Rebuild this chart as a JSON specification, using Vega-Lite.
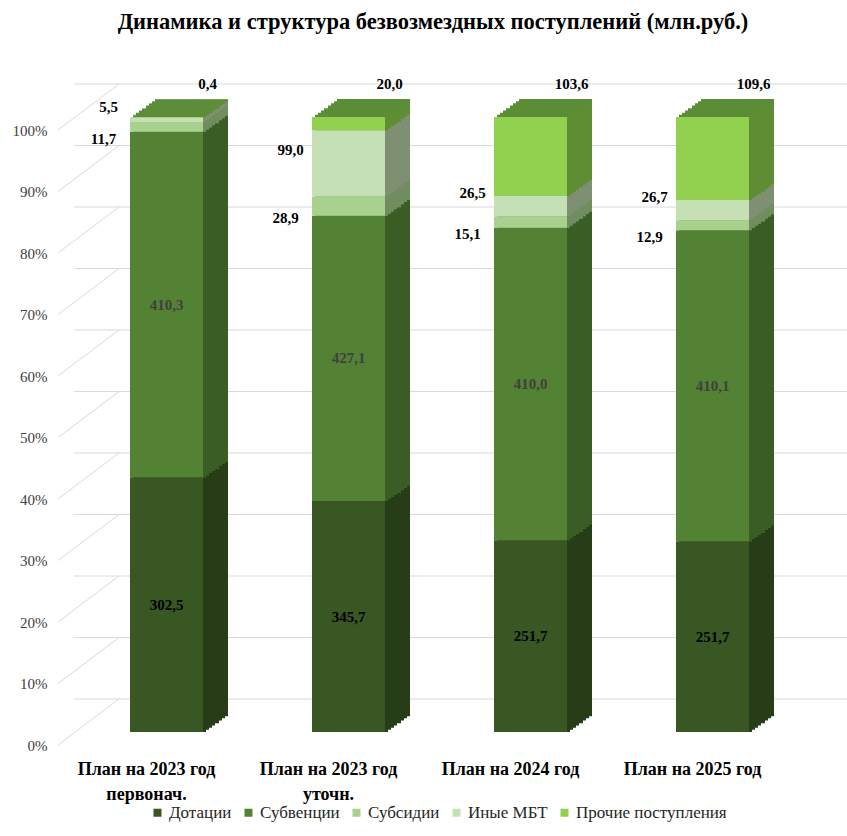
{
  "$schema": "https://vega.github.io/schema/vega-lite/v6.json",
  "width": 730,
  "height": 615,
  "autosize": {"type": "none"},
  "padding": {"left": 74, "top": 117, "right": 43, "bottom": 104},
  "background": "white",
  "title": {"text": "Динамика и структура безвозмездных поступлений (млн.руб.)", "font": "Liberation Serif", "fontSize": 22.5, "fontWeight": "bold", "color": "#000000", "anchor": "middle", "frame": "group", "offset": 44, "dx": -6},
  "config": {
    "font": "Liberation Serif",
    "view": {"stroke": null},
    "locale": {"number": {"decimal": ",", "thousands": " ", "grouping": [3], "currency": ["", ""]}},
    "axisY": {"format": ".0%", "domain": false, "ticks": false, "grid": false, "labelFont": "Liberation Serif", "labelFontSize": 15, "labelColor": "#404040", "labelPadding": 2, "offset": 25, "labelOffset": 13, "tickCount": 10, "labelFlush": false},
    "axisX": {"domain": false, "ticks": false, "grid": false, "labelFont": "Liberation Serif", "labelFontSize": 18, "labelFontWeight": "bold", "labelColor": "#000000", "labelPadding": 28, "labelLineHeight": 25, "labelAngle": 0, "labelOffset": -20, "labelExpr": "split(datum.label, '|')"}
  },
  "datasets": {
    "grid": [{"g": 0}, {"g": 0.1}, {"g": 0.2}, {"g": 0.3}, {"g": 0.4}, {"g": 0.5}, {"g": 0.6}, {"g": 0.7}, {"g": 0.8}, {"g": 0.9}, {"g": 1}],
    "main": [
      {"cat": "План на 2023 год|первонач.", "s": "Дотации", "k": 1, "v": 302.5},
      {"cat": "План на 2023 год|первонач.", "s": "Субвенции", "k": 2, "v": 410.3},
      {"cat": "План на 2023 год|первонач.", "s": "Субсидии", "k": 3, "v": 11.7},
      {"cat": "План на 2023 год|первонач.", "s": "Иные МБТ", "k": 4, "v": 5.5},
      {"cat": "План на 2023 год|первонач.", "s": "Прочие поступления", "k": 5, "v": 0.4},
      {"cat": "План на 2023 год|уточн.", "s": "Дотации", "k": 1, "v": 345.7},
      {"cat": "План на 2023 год|уточн.", "s": "Субвенции", "k": 2, "v": 427.1},
      {"cat": "План на 2023 год|уточн.", "s": "Субсидии", "k": 3, "v": 28.9},
      {"cat": "План на 2023 год|уточн.", "s": "Иные МБТ", "k": 4, "v": 99.0},
      {"cat": "План на 2023 год|уточн.", "s": "Прочие поступления", "k": 5, "v": 20.0},
      {"cat": "План на 2024 год", "s": "Дотации", "k": 1, "v": 251.7},
      {"cat": "План на 2024 год", "s": "Субвенции", "k": 2, "v": 410.0},
      {"cat": "План на 2024 год", "s": "Субсидии", "k": 3, "v": 15.1},
      {"cat": "План на 2024 год", "s": "Иные МБТ", "k": 4, "v": 26.5},
      {"cat": "План на 2024 год", "s": "Прочие поступления", "k": 5, "v": 103.6},
      {"cat": "План на 2025 год", "s": "Дотации", "k": 1, "v": 251.7},
      {"cat": "План на 2025 год", "s": "Субвенции", "k": 2, "v": 410.1},
      {"cat": "План на 2025 год", "s": "Субсидии", "k": 3, "v": 12.9},
      {"cat": "План на 2025 год", "s": "Иные МБТ", "k": 4, "v": 26.7},
      {"cat": "План на 2025 год", "s": "Прочие поступления", "k": 5, "v": 109.6}
    ]
  },
  "layer": [
    {
      "data": {"name": "grid"},
      "mark": {"type": "rule", "color": "#d9d9d9", "strokeWidth": 1, "xOffset": 44, "x2Offset": 44, "yOffset": -33, "y2Offset": -33},
      "encoding": {"y": {"field": "g", "type": "quantitative", "scale": {"domain": [0, 1], "nice": false}, "title": null}}
    },
    {
      "data": {"name": "grid"},
      "mark": {"type": "rule", "color": "#d9d9d9", "strokeWidth": 1, "xOffset": -108.5, "x2Offset": -47.5, "yOffset": 13, "y2Offset": -33},
      "encoding": {
        "x": {"datum": "План на 2023 год|первонач.", "type": "nominal", "scale": {"domain": ["План на 2023 год|первонач.", "План на 2023 год|уточн.", "План на 2024 год", "План на 2025 год"], "paddingInner": 0.6, "paddingOuter": 0.3, "round": true}, "title": null},
        "x2": {"datum": "План на 2023 год|первонач."},
        "y": {"field": "g", "type": "quantitative", "scale": {"domain": [0, 1], "nice": false}, "title": null},
        "y2": {"field": "g"}
      }
    },
    {
      "data": {"name": "main"},
      "transform": [
        {"stack": "v", "groupby": ["cat"], "sort": [{"field": "k"}], "as": ["y0", "y1"], "offset": "normalize"},
        {"calculate": "(datum.y0 + datum.y1) / 2", "as": "mid"}
      ],
      "encoding": {
        "x": {"field": "cat", "type": "nominal", "scale": {"domain": ["План на 2023 год|первонач.", "План на 2023 год|уточн.", "План на 2024 год", "План на 2025 год"], "paddingInner": 0.6, "paddingOuter": 0.3, "round": true}, "title": null}
      },
      "resolve": {"scale": {"color": "independent"}},
      "layer": [
        {"mark": {"type": "bar", "color": "#5b8d36", "xOffset": 25, "x2Offset": 25, "yOffset": -18, "y2Offset": -18}, "encoding": {"y": {"field": "y1", "type": "quantitative", "scale": {"domain": [0, 1], "nice": false}, "title": null}, "y2": {"field": "y0"}}},
        {"mark": {"type": "bar", "xOffset": 25, "x2Offset": 25, "yOffset": -15.84, "y2Offset": -15.84}, "encoding": {"y": {"field": "y1", "type": "quantitative", "scale": {"domain": [0, 1], "nice": false}, "title": null}, "y2": {"field": "y0"}, "color": {"field": "s", "type": "nominal", "scale": {"domain": ["Дотации", "Субвенции", "Субсидии", "Иные МБТ", "Прочие поступления"], "range": ["#263d18", "#3a5c25", "#718c5e", "#7f9072", "#5f8d34"]}, "legend": null}}},
        {"mark": {"type": "bar", "color": "#5b8d36", "xOffset": 22, "x2Offset": 22, "yOffset": -15.84, "y2Offset": -15.84}, "encoding": {"y": {"field": "y1", "type": "quantitative", "scale": {"domain": [0, 1], "nice": false}, "title": null}, "y2": {"field": "y0"}}},
        {"mark": {"type": "bar", "xOffset": 22, "x2Offset": 22, "yOffset": -13.68, "y2Offset": -13.68}, "encoding": {"y": {"field": "y1", "type": "quantitative", "scale": {"domain": [0, 1], "nice": false}, "title": null}, "y2": {"field": "y0"}, "color": {"field": "s", "type": "nominal", "scale": {"domain": ["Дотации", "Субвенции", "Субсидии", "Иные МБТ", "Прочие поступления"], "range": ["#263d18", "#3a5c25", "#718c5e", "#7f9072", "#5f8d34"]}, "legend": null}}},
        {"mark": {"type": "bar", "color": "#5b8d36", "xOffset": 19, "x2Offset": 19, "yOffset": -13.68, "y2Offset": -13.68}, "encoding": {"y": {"field": "y1", "type": "quantitative", "scale": {"domain": [0, 1], "nice": false}, "title": null}, "y2": {"field": "y0"}}},
        {"mark": {"type": "bar", "xOffset": 19, "x2Offset": 19, "yOffset": -11.52, "y2Offset": -11.52}, "encoding": {"y": {"field": "y1", "type": "quantitative", "scale": {"domain": [0, 1], "nice": false}, "title": null}, "y2": {"field": "y0"}, "color": {"field": "s", "type": "nominal", "scale": {"domain": ["Дотации", "Субвенции", "Субсидии", "Иные МБТ", "Прочие поступления"], "range": ["#263d18", "#3a5c25", "#718c5e", "#7f9072", "#5f8d34"]}, "legend": null}}},
        {"mark": {"type": "bar", "color": "#5b8d36", "xOffset": 16, "x2Offset": 16, "yOffset": -11.52, "y2Offset": -11.52}, "encoding": {"y": {"field": "y1", "type": "quantitative", "scale": {"domain": [0, 1], "nice": false}, "title": null}, "y2": {"field": "y0"}}},
        {"mark": {"type": "bar", "xOffset": 16, "x2Offset": 16, "yOffset": -8.64, "y2Offset": -8.64}, "encoding": {"y": {"field": "y1", "type": "quantitative", "scale": {"domain": [0, 1], "nice": false}, "title": null}, "y2": {"field": "y0"}, "color": {"field": "s", "type": "nominal", "scale": {"domain": ["Дотации", "Субвенции", "Субсидии", "Иные МБТ", "Прочие поступления"], "range": ["#263d18", "#3a5c25", "#718c5e", "#7f9072", "#5f8d34"]}, "legend": null}}},
        {"mark": {"type": "bar", "color": "#5b8d36", "xOffset": 12, "x2Offset": 12, "yOffset": -8.64, "y2Offset": -8.64}, "encoding": {"y": {"field": "y1", "type": "quantitative", "scale": {"domain": [0, 1], "nice": false}, "title": null}, "y2": {"field": "y0"}}},
        {"mark": {"type": "bar", "xOffset": 12, "x2Offset": 12, "yOffset": -6.48, "y2Offset": -6.48}, "encoding": {"y": {"field": "y1", "type": "quantitative", "scale": {"domain": [0, 1], "nice": false}, "title": null}, "y2": {"field": "y0"}, "color": {"field": "s", "type": "nominal", "scale": {"domain": ["Дотации", "Субвенции", "Субсидии", "Иные МБТ", "Прочие поступления"], "range": ["#263d18", "#3a5c25", "#718c5e", "#7f9072", "#5f8d34"]}, "legend": null}}},
        {"mark": {"type": "bar", "color": "#5b8d36", "xOffset": 9, "x2Offset": 9, "yOffset": -6.48, "y2Offset": -6.48}, "encoding": {"y": {"field": "y1", "type": "quantitative", "scale": {"domain": [0, 1], "nice": false}, "title": null}, "y2": {"field": "y0"}}},
        {"mark": {"type": "bar", "xOffset": 9, "x2Offset": 9, "yOffset": -4.32, "y2Offset": -4.32}, "encoding": {"y": {"field": "y1", "type": "quantitative", "scale": {"domain": [0, 1], "nice": false}, "title": null}, "y2": {"field": "y0"}, "color": {"field": "s", "type": "nominal", "scale": {"domain": ["Дотации", "Субвенции", "Субсидии", "Иные МБТ", "Прочие поступления"], "range": ["#263d18", "#3a5c25", "#718c5e", "#7f9072", "#5f8d34"]}, "legend": null}}},
        {"mark": {"type": "bar", "color": "#5b8d36", "xOffset": 6, "x2Offset": 6, "yOffset": -4.32, "y2Offset": -4.32}, "encoding": {"y": {"field": "y1", "type": "quantitative", "scale": {"domain": [0, 1], "nice": false}, "title": null}, "y2": {"field": "y0"}}},
        {"mark": {"type": "bar", "xOffset": 6, "x2Offset": 6, "yOffset": -2.16, "y2Offset": -2.16}, "encoding": {"y": {"field": "y1", "type": "quantitative", "scale": {"domain": [0, 1], "nice": false}, "title": null}, "y2": {"field": "y0"}, "color": {"field": "s", "type": "nominal", "scale": {"domain": ["Дотации", "Субвенции", "Субсидии", "Иные МБТ", "Прочие поступления"], "range": ["#263d18", "#3a5c25", "#718c5e", "#7f9072", "#5f8d34"]}, "legend": null}}},
        {"mark": {"type": "bar", "color": "#5b8d36", "xOffset": 3, "x2Offset": 3, "yOffset": -2.16, "y2Offset": -2.16}, "encoding": {"y": {"field": "y1", "type": "quantitative", "scale": {"domain": [0, 1], "nice": false}, "title": null}, "y2": {"field": "y0"}}},
        {"mark": {"type": "bar", "xOffset": 3, "x2Offset": 3, "yOffset": 0, "y2Offset": 0}, "encoding": {"y": {"field": "y1", "type": "quantitative", "scale": {"domain": [0, 1], "nice": false}, "title": null}, "y2": {"field": "y0"}, "color": {"field": "s", "type": "nominal", "scale": {"domain": ["Дотации", "Субвенции", "Субсидии", "Иные МБТ", "Прочие поступления"], "range": ["#263d18", "#3a5c25", "#718c5e", "#7f9072", "#5f8d34"]}, "legend": null}}},
        {
          "mark": {"type": "bar"},
          "encoding": {
            "y": {"field": "y1", "type": "quantitative", "scale": {"domain": [0, 1], "nice": false}, "title": null},
            "y2": {"field": "y0"},
            "color": {"field": "s", "type": "nominal", "scale": {"domain": ["Дотации", "Субвенции", "Субсидии", "Иные МБТ", "Прочие поступления"], "range": ["#385723", "#548235", "#a9d18e", "#c5e0b4", "#92d050"]},
              "legend": {"orient": "none", "legendX": 75, "legendY": 687, "direction": "horizontal", "title": null, "symbolType": "square", "symbolSize": 64, "symbolStrokeWidth": 0, "labelFont": "Liberation Serif", "labelFontSize": 17, "labelColor": "#262626", "columnPadding": 8, "labelOffset": 3, "padding": 0}}
          }
        },
        {
          "transform": [{"filter": "datum.s === 'Дотации' || datum.s === 'Субвенции'"}],
          "mark": {"type": "text", "font": "Liberation Serif", "fontSize": 15, "fontWeight": "bold"},
          "encoding": {
            "y": {"field": "mid", "type": "quantitative", "scale": {"domain": [0, 1], "nice": false}, "title": null},
            "text": {"field": "v", "type": "quantitative", "format": ".1f"},
            "color": {"condition": {"test": "datum.s === 'Дотации'", "value": "#000000"}, "value": "#404040"}
          }
        },
        {
          "transform": [{"filter": "datum.s === 'Субсидии'"}],
          "mark": {"type": "text", "font": "Liberation Serif", "fontSize": 15, "fontWeight": "bold", "color": "#000000", "dx": -63, "dy": 12},
          "encoding": {
            "y": {"field": "mid", "type": "quantitative", "scale": {"domain": [0, 1], "nice": false}, "title": null},
            "text": {"field": "v", "type": "quantitative", "format": ".1f"}
          }
        },
        {
          "transform": [{"filter": "datum.s === 'Иные МБТ'"}],
          "mark": {"type": "text", "font": "Liberation Serif", "fontSize": 15, "fontWeight": "bold", "color": "#000000", "dx": -58, "dy": -13},
          "encoding": {
            "y": {"field": "mid", "type": "quantitative", "scale": {"domain": [0, 1], "nice": false}, "title": null},
            "text": {"field": "v", "type": "quantitative", "format": ".1f"}
          }
        },
        {
          "transform": [{"filter": "datum.s === 'Прочие поступления'"}],
          "mark": {"type": "text", "font": "Liberation Serif", "fontSize": 15, "fontWeight": "bold", "color": "#000000", "dx": 41, "dy": -33},
          "encoding": {
            "y": {"field": "y1", "type": "quantitative", "scale": {"domain": [0, 1], "nice": false}, "title": null},
            "text": {"field": "v", "type": "quantitative", "format": ".1f"}
          }
        }
      ]
    }
  ]
}
